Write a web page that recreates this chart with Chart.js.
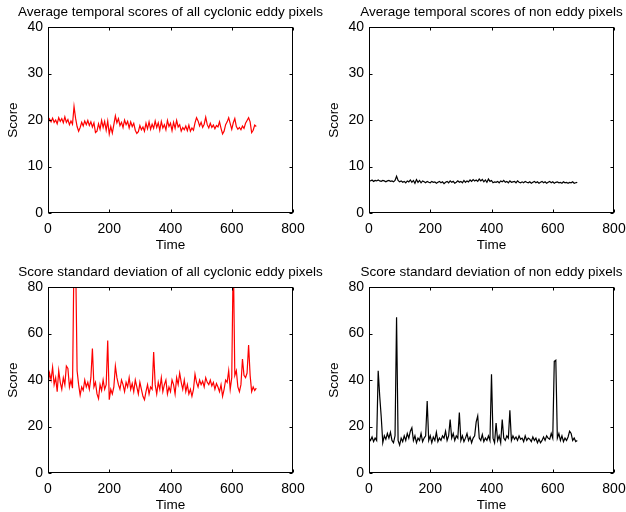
<!DOCTYPE html>
<html>
<head>
<meta charset="utf-8">
<script src="https://cdn.jsdelivr.net/npm/chart.js@4.4.1/dist/chart.umd.min.js"></script>
<style>
  body { margin: 0; background: #fff; overflow: hidden; }
  #wrap { position: relative; width: 626px; height: 512px; overflow: hidden; }
  canvas { position: absolute; }
</style>
</head>
<body>
<div id="wrap">
  <canvas id="c1" width="341" height="256" style="left:0;top:0"></canvas>
  <canvas id="c2" width="341" height="256" style="left:321px;top:0"></canvas>
  <canvas id="c3" width="341" height="256" style="left:0;top:260px"></canvas>
  <canvas id="c4" width="341" height="256" style="left:321px;top:260px"></canvas>
</div>
<script>
// time steps (read every 5 units)
const time = [
  0, 5, 10, 15, 20, 25, 30, 35, 40, 45,
  50, 55, 60, 65, 70, 75, 80, 85, 90, 95,
  100, 105, 110, 115, 120, 125, 130, 135, 140, 145,
  150, 155, 160, 165, 170, 175, 180, 185, 190, 195,
  200, 205, 210, 215, 220, 225, 230, 235, 240, 245,
  250, 255, 260, 265, 270, 275, 280, 285, 290, 295,
  300, 305, 310, 315, 320, 325, 330, 335, 340, 345,
  350, 355, 360, 365, 370, 375, 380, 385, 390, 395,
  400, 405, 410, 415, 420, 425, 430, 435, 440, 445,
  450, 455, 460, 465, 470, 475, 480, 485, 490, 495,
  500, 505, 510, 515, 520, 525, 530, 535, 540, 545,
  550, 555, 560, 565, 570, 575, 580, 585, 590, 595,
  600, 605, 610, 615, 620, 625, 630, 635, 640, 645,
  650, 655, 660, 665, 670, 675, 680
];

// average score, cyclonic eddy pixels
const avgCyclonic = [
  19.3, 20.2, 19.6, 20.4, 19.5, 20.0, 19.2, 20.5, 19.7, 20.3,
  19.4, 20.7, 19.5, 20.1, 19.0, 19.8, 19.1, 22.9, 20.4, 18.6,
  17.6, 18.4, 19.5, 18.7, 19.8, 19.0, 19.9, 18.8, 19.6, 18.5,
  19.4, 17.3, 17.6, 19.2, 18.0, 19.9, 18.4, 19.7, 17.8, 19.8,
  17.0, 18.6, 17.2, 19.0, 20.9, 19.4, 20.3, 18.8, 19.5, 18.4,
  20.0, 19.0, 19.7, 18.3, 19.6, 18.6, 19.3, 17.8, 17.1, 17.5,
  18.8, 17.9, 18.5, 17.6, 19.3, 18.1, 19.6, 18.0, 19.1, 18.2,
  19.8, 18.4, 19.4, 17.8, 19.7, 18.3, 19.0, 17.9, 19.9, 18.6,
  19.3, 17.7, 19.5, 18.2, 19.9, 18.5, 19.0, 17.6, 18.4, 17.9,
  18.7, 17.7, 18.9, 17.6, 18.3, 17.8, 19.4, 20.5, 19.8, 18.7,
  19.5, 18.4, 19.1, 20.6, 19.0, 18.3, 19.3, 18.4, 18.9, 18.1,
  18.8, 18.5, 19.6, 18.2, 17.0, 17.6, 19.0, 19.6, 20.5, 19.2,
  18.0, 19.4, 20.3, 18.6, 18.0, 18.4, 17.9, 18.7, 18.2, 19.3,
  19.9, 20.5, 19.6, 17.3, 17.8, 18.9, 18.6
];

// average score, non eddy pixels
const avgNonEddy = [
  7.0, 6.9, 7.1, 6.8, 7.0, 6.9, 7.1, 6.9, 6.8, 7.0,
  6.9, 6.7, 6.9, 7.0, 6.8, 6.9, 6.7, 7.0, 7.9, 7.0,
  6.7, 6.9, 6.6, 6.8, 6.5, 6.9, 6.7, 7.1, 6.6, 7.0,
  6.4, 7.2, 6.6, 7.0, 6.5, 6.9, 6.7, 6.5, 6.8, 6.6,
  6.5, 6.8, 6.6, 6.7, 6.4, 6.6, 6.8, 6.5, 6.7, 6.3,
  6.6, 6.8, 6.5, 6.9, 6.6, 6.8, 6.4, 6.6, 6.9, 6.6,
  6.8, 6.5, 7.0, 6.6, 6.9, 6.7, 7.1, 6.8, 7.2, 6.9,
  7.1, 6.8, 7.3, 6.9, 7.2, 6.7, 7.1, 6.6, 7.3, 6.8,
  7.0, 6.5, 6.7, 6.6, 6.8, 6.5, 6.9, 6.7, 7.0, 6.6,
  6.8, 6.5, 6.9, 6.6, 6.7, 6.8, 6.5, 6.9, 6.6, 6.5,
  6.7, 6.5, 6.8, 6.6, 6.5, 6.7, 6.4, 6.6, 6.8, 6.5,
  6.7, 6.4, 6.6, 6.8, 6.5, 6.7, 6.4, 6.6, 6.8, 6.5,
  6.7, 6.4, 6.6, 6.7, 6.5, 6.6, 6.4, 6.7, 6.5, 6.6,
  6.4, 6.6, 6.5, 6.7, 6.4, 6.5, 6.6
];

// score standard deviation, cyclonic eddy pixels
const stdCyclonic = [
  37.5, 43, 40, 45.5, 38, 41, 35, 44, 39, 36,
  41, 38, 46, 45, 37, 40, 36.5, 95, 95, 44,
  38, 33.5, 37, 35.5, 40, 37, 39, 36, 41, 53.5,
  37, 39, 34, 32, 38, 35.5, 40, 36, 38, 57,
  31.5, 36, 34, 37, 46, 41, 38, 36, 40, 38,
  35, 39, 37, 41, 36, 38.5, 35, 40, 37, 34,
  39, 36, 33, 31.5, 35, 38, 34, 37, 36, 52,
  38, 34, 39, 36, 41, 35, 38, 40, 34, 37,
  35, 40, 38, 34, 41, 38, 43, 39, 36, 40,
  35, 38, 34, 36, 33, 36, 42.5, 39, 37, 40,
  38, 39.5, 37, 41, 39, 38, 40, 37.5, 39, 36,
  38.5, 37, 35, 38, 33, 36, 40, 39, 44, 36,
  41, 95, 42, 44, 37, 35, 38, 49, 42, 41,
  43, 55, 42, 35, 37, 35.5, 36.5
];

// score standard deviation, non eddy pixels
const stdNonEddy = [
  15, 14, 15.5, 13.5, 15, 14, 44, 33, 24, 13,
  16, 14.5, 17, 15, 17.5, 14, 13, 16, 67, 14,
  12, 15, 13.5, 16, 14, 17, 15, 18, 19.5, 14,
  16, 13, 15, 14, 17, 13.5, 15, 16, 31, 14,
  16, 13, 15.5, 14, 17.5, 13.5, 15, 14, 16, 15,
  18, 14, 16, 23, 15, 17, 14, 16, 15, 26,
  14, 16, 13.5, 15, 17, 14, 15.5, 13, 15, 16,
  22, 24.5, 15, 14, 16.5, 13.5, 15, 14, 16, 14,
  42.5, 15, 13, 21.5, 14, 16, 13, 23, 15, 14,
  16, 15, 27, 14, 16, 14.5, 15.5, 14, 16, 14.5,
  15, 13.5, 16, 14, 15, 14.5, 13.5, 15.5, 14, 15,
  13, 14.5, 13, 14, 15.5, 14, 16, 15, 14.5, 17,
  15, 48, 48.5, 15, 17, 14, 16, 13.5, 15, 14,
  15.5, 18, 17, 14, 15, 13.5, 14
];

const FONT = "'Liberation Sans', Arial, Helvetica, sans-serif";
Chart.defaults.font.family = FONT;
Chart.defaults.color = '#000';

// box round the plot with inward tick marks on all four sides
const frame = {
  id: 'frame',
  afterDatasetsDraw(chart) {
    const { ctx, chartArea: a, scales: { x, y } } = chart;
    const l = Math.round(a.left) + 0.5, r = Math.round(a.right) - 0.5;
    const t = Math.round(a.top) + 0.5, b = Math.round(a.bottom) - 0.5;
    ctx.save();
    ctx.strokeStyle = '#000';
    ctx.lineWidth = 1;
    ctx.strokeRect(l, t, r - l, b - t);
    ctx.beginPath();
    x.ticks.forEach(tk => {
      const px = Math.round(x.getPixelForValue(tk.value)) + 0.5;
      ctx.moveTo(px, b); ctx.lineTo(px, b - 3);
      ctx.moveTo(px, t); ctx.lineTo(px, t + 3);
    });
    y.ticks.forEach(tk => {
      const py = Math.round(y.getPixelForValue(tk.value)) + 0.5;
      ctx.moveTo(l, py); ctx.lineTo(l + 3, py);
      ctx.moveTo(r, py); ctx.lineTo(r - 3, py);
    });
    ctx.stroke();
    ctx.restore();
  }
};

function makeChart(id, title, values, color, yMax, yStep) {
  return new Chart(document.getElementById(id), {
    type: 'line',
    data: {
      datasets: [{
        data: time.map((t, i) => ({ x: t, y: values[i] })),
        borderColor: color,
        borderWidth: 1.2,
        pointRadius: 0,
        tension: 0,
        fill: false
      }]
    },
    options: {
      responsive: false,
      animation: false,
      devicePixelRatio: 1,
      layout: { padding: 0 },
      plugins: {
        legend: { display: false },
        tooltip: { enabled: false },
        title: {
          display: true,
          text: title,
          color: '#000',
          font: { size: 13.5, weight: 'normal' },
          padding: { top: 4, bottom: 6.8 }
        }
      },
      scales: {
        x: {
          type: 'linear',
          min: 0, max: 800,
          grid: { display: false, drawTicks: false },
          border: { display: false },
          ticks: { stepSize: 200, maxRotation: 0, padding: 8, font: { size: 14 } },
          title: { display: true, text: 'Time', font: { size: 13.5 }, padding: { top: 0, bottom: 3 } },
          afterFit(s) { s.height = 43; }
        },
        y: {
          min: 0, max: yMax,
          grid: { display: false, drawTicks: false },
          border: { display: false },
          ticks: { stepSize: yStep, padding: 5, font: { size: 14 } },
          title: { display: true, text: 'Score', font: { size: 13.5 }, padding: { top: 5, bottom: 0 } },
          afterFit(s) { s.width = 48; }
        },
        // empty right-hand margin so the title stays centred on the plot
        yRight: {
          position: 'right',
          grid: { display: false, drawTicks: false },
          border: { display: false },
          ticks: { display: false },
          afterFit(s) { s.width = 48; }
        }
      }
    },
    plugins: [frame]
  });
}

makeChart('c1', 'Average temporal scores of all cyclonic eddy pixels', avgCyclonic, '#ff0000', 40, 10);
makeChart('c2', 'Average temporal scores of non eddy pixels', avgNonEddy, '#000000', 40, 10);
makeChart('c3', 'Score standard deviation of all cyclonic eddy pixels', stdCyclonic, '#ff0000', 80, 20);
makeChart('c4', 'Score standard deviation of non eddy pixels', stdNonEddy, '#000000', 80, 20);
</script>
</body>
</html>
